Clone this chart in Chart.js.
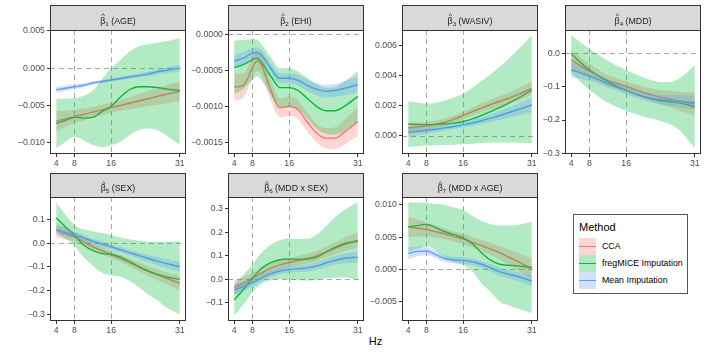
<!DOCTYPE html>
<html><head><meta charset="utf-8">
<script src="https://cdn.jsdelivr.net/npm/chart.js@4.4.0/dist/chart.umd.min.js"></script>
<style>
body{margin:0;width:706px;height:353px;background:#fff;position:relative;overflow:hidden;font-family:"Liberation Sans",Arial,sans-serif}
canvas{position:absolute}
#hz{position:absolute;left:300px;width:151px;top:335px;text-align:center;font-size:11px;line-height:13px;color:#000}
#legend{position:absolute;left:573px;top:214px;width:115px;height:80px;border:1px solid #555;box-sizing:border-box;background:#fff}
#legend .t{position:absolute;left:5px;top:6px;font-size:11px;line-height:13px;color:#000}
#legend .k{position:absolute;left:5px;width:17px;height:17px;background:#fff}
#legend .k .ln{position:absolute;left:0;right:0;top:8px;height:1.4px}
#legend .k .fl{position:absolute;left:0;right:0;top:0;bottom:0}
#legend .l{position:absolute;left:28px;font-size:8.8px;line-height:17px;color:#000;white-space:nowrap}
</style></head>
<body>
<div id="hz">Hz</div>
<div id="legend"></div>
<script>
// ---------- data ----------
const hz = [4,6,8,9,10,12,14,16,18,20,22,24,26,28,31];
const xTicks = [4,8,16,31];
const xTickLabels = ['4','8','16','31'];
const refHz = [8,16];
const refY = 0;
const methods = ['CCA','fregMICE Imputation','Mean Imputation'];

// AGE
const ageCCA    = [-0.0071,-0.0068,-0.0065,-0.0063,-0.0062,-0.0059,-0.0056,-0.0053,-0.0050,-0.0047,-0.0044,-0.0041,-0.0038,-0.0035,-0.0031];
const ageCCALo  = [-0.0085,-0.0079,-0.0074,-0.00715,-0.0070,-0.0066,-0.0063,-0.0060,-0.0057,-0.0055,-0.0053,-0.0051,-0.0049,-0.0047,-0.0044];
const ageCCAHi  = [-0.0057,-0.0057,-0.0056,-0.00545,-0.0054,-0.0052,-0.0049,-0.0046,-0.0043,-0.0039,-0.0035,-0.0031,-0.0027,-0.0023,-0.0018];
const ageFreg   = [-0.0074,-0.0070,-0.0066,-0.0066,-0.0067,-0.0066,-0.0058,-0.0051,-0.0039,-0.0029,-0.0025,-0.0025,-0.0026,-0.0028,-0.0030];
const ageFregLo = [-0.0107,-0.0099,-0.0092,-0.0094,-0.0097,-0.0103,-0.0106,-0.0103,-0.0099,-0.0090,-0.0083,-0.0081,-0.0083,-0.0090,-0.0103];
const ageFregHi = [-0.0041,-0.0041,-0.0040,-0.0039,-0.0037,-0.0030,-0.0015,0.0000,0.0011,0.0022,0.0029,0.0032,0.0034,0.0036,0.0040];
const ageMean   = [-0.0029,-0.0027,-0.0025,-0.0024,-0.0023,-0.0020,-0.0018,-0.0016,-0.0014,-0.0012,-0.0010,-0.0008,-0.0005,-0.0003,0.0000];
const ageMeanLo = [-0.0033,-0.00305,-0.0028,-0.00268,-0.00255,-0.00222,-0.0020,-0.0018,-0.0016,-0.00142,-0.00125,-0.0011,-0.00085,-0.0007,-0.00045];
const ageMeanHi = [-0.0025,-0.00235,-0.0022,-0.00212,-0.00205,-0.00178,-0.0016,-0.0014,-0.0012,-0.00098,-0.00075,-0.0005,-0.00015,0.0001,0.00045];
const ageTicks = [-0.010,-0.005,0,0.005];
const ageLabels = ['\u22120.010','\u22120.005','0.000','0.005'];

// EHI
const ehiCCA    = [-0.00073,-0.00071,-0.00046,-0.00037,-0.00043,-0.00078,-0.00102,-0.00100,-0.00105,-0.00122,-0.00137,-0.00144,-0.00144,-0.00136,-0.00121];
const ehiCCALo  = [-0.00092,-0.00088,-0.00061,-0.00051,-0.00057,-0.00092,-0.00115,-0.00113,-0.00118,-0.00135,-0.00150,-0.00158,-0.00159,-0.00153,-0.00141];
const ehiCCAHi  = [-0.00054,-0.00054,-0.00031,-0.00023,-0.00029,-0.00064,-0.00089,-0.00087,-0.00092,-0.00109,-0.00124,-0.00130,-0.00129,-0.00119,-0.00101];
const ehiFreg   = [-0.00046,-0.00042,-0.00035,-0.00033,-0.00039,-0.00058,-0.00074,-0.00074,-0.00078,-0.00089,-0.00100,-0.00106,-0.00106,-0.00100,-0.00086];
const ehiFregLo = [-0.00083,-0.00076,-0.00063,-0.00058,-0.00064,-0.00084,-0.00101,-0.00101,-0.00104,-0.00117,-0.00131,-0.00138,-0.00139,-0.00134,-0.00121];
const ehiFregHi = [-0.00009,-0.00008,-0.00007,-0.00008,-0.00014,-0.00032,-0.00047,-0.00047,-0.00052,-0.00061,-0.00069,-0.00074,-0.00073,-0.00066,-0.00051];
const ehiMean   = [-0.00037,-0.00033,-0.00026,-0.00025,-0.00029,-0.00047,-0.00061,-0.00061,-0.00064,-0.00071,-0.00076,-0.00079,-0.00078,-0.00075,-0.00070];
const ehiMeanLo = [-0.00046,-0.00041,-0.00033,-0.00032,-0.00036,-0.00054,-0.00068,-0.00068,-0.000715,-0.00079,-0.000845,-0.00088,-0.00087,-0.00085,-0.00081];
const ehiMeanHi = [-0.00028,-0.00025,-0.00019,-0.00018,-0.00022,-0.00040,-0.00054,-0.00054,-0.000565,-0.00063,-0.000675,-0.00070,-0.00069,-0.00065,-0.00059];
const ehiTicks = [-0.0015,-0.0010,-0.0005,0];
const ehiLabels = ['\u22120.0015','\u22120.0010','\u22120.0005','0.0000'];

// WASIV
const wasCCA    = [0.00053,0.00058,0.00065,0.00070,0.00076,0.00090,0.00110,0.00135,0.00160,0.00185,0.00208,0.00230,0.00250,0.00275,0.00315];
const wasCCALo  = [0.00018,0.00028,0.00038,0.00044,0.00051,0.00066,0.00086,0.00110,0.00133,0.00156,0.00177,0.00196,0.00213,0.00234,0.00269];
const wasCCAHi  = [0.00088,0.00088,0.00092,0.00096,0.00101,0.00114,0.00134,0.00160,0.00187,0.00214,0.00239,0.00264,0.00287,0.00316,0.00361];
const wasFreg   = [0.00077,0.00075,0.00074,0.00074,0.00075,0.00078,0.00084,0.00095,0.00112,0.00135,0.00160,0.00188,0.00217,0.00250,0.00305];
const wasFregLo = [-0.00075,-0.00070,-0.00066,-0.00065,-0.00064,-0.00062,-0.00060,-0.00057,-0.00053,-0.00049,-0.00046,-0.00045,-0.00045,-0.00047,-0.00050];
const wasFregHi = [0.00230,0.00220,0.00215,0.00215,0.00220,0.00235,0.00255,0.00280,0.00320,0.00365,0.00410,0.00460,0.00515,0.00575,0.00670];
const wasMean   = [0.00022,0.00028,0.00035,0.00039,0.00043,0.00052,0.00061,0.00072,0.00085,0.00100,0.00117,0.00135,0.00155,0.00175,0.00205];
const wasMeanLo = [-0.00008,0.00003,0.00015,0.00020,0.00025,0.00035,0.00044,0.00054,0.00065,0.00078,0.00091,0.00105,0.00120,0.00135,0.00157];
const wasMeanHi = [0.00052,0.00053,0.00055,0.00058,0.00061,0.00069,0.00078,0.00090,0.00105,0.00122,0.00143,0.00165,0.00190,0.00215,0.00253];
const wasTicks = [0,0.002,0.004,0.006];
const wasLabels = ['0.000','0.002','0.004','0.006'];

// MDD
const mddCCA    = [-0.020,-0.037,-0.053,-0.060,-0.067,-0.081,-0.090,-0.099,-0.109,-0.118,-0.126,-0.133,-0.139,-0.145,-0.152];
const mddCCALo  = [-0.050,-0.062,-0.074,-0.079,-0.085,-0.097,-0.105,-0.114,-0.125,-0.135,-0.145,-0.155,-0.164,-0.174,-0.187];
const mddCCAHi  = [0.010,-0.012,-0.032,-0.041,-0.049,-0.065,-0.075,-0.084,-0.093,-0.101,-0.107,-0.111,-0.114,-0.116,-0.117];
const mddFreg   = [0.000,-0.027,-0.050,-0.059,-0.068,-0.085,-0.099,-0.111,-0.122,-0.131,-0.138,-0.143,-0.146,-0.150,-0.160];
const mddFregLo = [-0.060,-0.085,-0.110,-0.120,-0.130,-0.148,-0.161,-0.172,-0.182,-0.190,-0.197,-0.205,-0.215,-0.235,-0.285];
const mddFregHi = [0.055,0.033,0.013,0.004,-0.005,-0.022,-0.037,-0.050,-0.062,-0.073,-0.082,-0.087,-0.085,-0.072,-0.035];
const mddMean   = [-0.050,-0.058,-0.068,-0.073,-0.079,-0.091,-0.102,-0.112,-0.122,-0.130,-0.136,-0.140,-0.142,-0.144,-0.148];
const mddMeanLo = [-0.072,-0.076,-0.083,-0.087,-0.092,-0.103,-0.113,-0.123,-0.133,-0.142,-0.149,-0.154,-0.158,-0.162,-0.169];
const mddMeanHi = [-0.028,-0.040,-0.053,-0.059,-0.066,-0.079,-0.091,-0.101,-0.111,-0.118,-0.123,-0.126,-0.126,-0.126,-0.127];
const mddTicks = [-0.3,-0.2,-0.1,0];
const mddLabels = ['\u22120.3','\u22120.2','\u22120.1','0.0'];

// SEX
const sexCCA    = [0.055,0.040,0.027,0.017,0.006,-0.015,-0.032,-0.048,-0.064,-0.081,-0.099,-0.117,-0.133,-0.147,-0.170];
const sexCCALo  = [0.025,0.015,0.007,-0.002,-0.012,-0.031,-0.047,-0.063,-0.079,-0.097,-0.117,-0.137,-0.155,-0.172,-0.200];
const sexCCAHi  = [0.085,0.065,0.047,0.036,0.024,0.001,-0.017,-0.033,-0.049,-0.065,-0.081,-0.097,-0.111,-0.122,-0.140];
const sexFreg   = [0.107,0.069,0.034,0.012,-0.008,-0.032,-0.044,-0.048,-0.058,-0.078,-0.099,-0.117,-0.131,-0.142,-0.153];
const sexFregLo = [0.045,0.018,-0.010,-0.035,-0.060,-0.095,-0.125,-0.135,-0.142,-0.160,-0.185,-0.215,-0.240,-0.270,-0.300];
const sexFregHi = [0.170,0.120,0.076,0.064,0.058,0.050,0.042,0.033,0.024,0.016,0.010,0.007,0.006,0.006,0.008];
const sexMean   = [0.055,0.045,0.034,0.028,0.022,0.008,-0.004,-0.016,-0.028,-0.040,-0.052,-0.064,-0.076,-0.086,-0.100];
const sexMeanLo = [0.035,0.028,0.020,0.015,0.010,-0.003,-0.015,-0.027,-0.039,-0.052,-0.065,-0.079,-0.093,-0.105,-0.122];
const sexMeanHi = [0.075,0.062,0.048,0.041,0.034,0.019,0.007,-0.005,-0.017,-0.028,-0.039,-0.049,-0.059,-0.067,-0.078];
const sexTicks = [-0.3,-0.2,-0.1,0,0.1];
const sexLabels = ['\u22120.3','\u22120.2','\u22120.1','0.0','0.1'];

// MDD x SEX
const msCCA    = [-0.034,-0.016,0.006,0.017,0.027,0.048,0.062,0.072,0.080,0.088,0.100,0.116,0.132,0.148,0.167];
const msCCALo  = [-0.064,-0.041,-0.015,-0.003,0.008,0.030,0.044,0.054,0.061,0.068,0.079,0.093,0.107,0.120,0.134];
const msCCAHi  = [-0.004,0.009,0.027,0.037,0.046,0.066,0.080,0.090,0.099,0.108,0.121,0.139,0.157,0.176,0.200];
const msFreg   = [-0.087,-0.044,0.006,0.028,0.048,0.072,0.084,0.087,0.085,0.087,0.094,0.116,0.136,0.152,0.162];
const msFregLo = [-0.155,-0.108,-0.052,-0.034,-0.018,-0.003,0.002,0.000,-0.003,-0.005,-0.002,0.005,0.007,0.009,-0.005];
const msFregHi = [-0.020,0.020,0.065,0.090,0.115,0.148,0.167,0.174,0.172,0.172,0.190,0.225,0.265,0.295,0.330];
const msMean   = [-0.044,-0.030,-0.014,-0.004,0.006,0.024,0.036,0.043,0.046,0.049,0.057,0.070,0.081,0.090,0.095];
const msMeanLo = [-0.066,-0.049,-0.030,-0.019,-0.009,0.010,0.022,0.029,0.032,0.034,0.041,0.053,0.062,0.069,0.071];
const msMeanHi = [-0.022,-0.011,0.002,0.011,0.021,0.038,0.050,0.057,0.060,0.064,0.073,0.087,0.100,0.111,0.119];
const msTicks = [-0.1,0,0.1,0.2,0.3];
const msLabels = ['\u22120.1','0.0','0.1','0.2','0.3'];

// MDD x AGE
const maCCA    = [0.0066,0.0064,0.0062,0.0060,0.00585,0.0055,0.0051,0.0047,0.0042,0.0037,0.00315,0.0026,0.0019,0.0012,0.0001];
const maCCALo  = [0.0050,0.0051,0.0051,0.0050,0.0049,0.00465,0.0043,0.0039,0.0034,0.00285,0.0022,0.00155,0.0007,-0.00015,-0.0015];
const maCCAHi  = [0.0082,0.0077,0.0073,0.0070,0.0068,0.00635,0.0059,0.0055,0.0050,0.00455,0.0041,0.00365,0.0031,0.00255,0.0017];
const maFreg   = [0.0066,0.0068,0.0070,0.0068,0.0065,0.00585,0.0054,0.0049,0.0040,0.0026,0.00145,0.0008,0.00065,0.00055,0.0003];
const maFregLo = [0.0028,0.0032,0.0036,0.0034,0.0029,0.0018,0.0011,0.0006,-0.0003,-0.0022,-0.0035,-0.0050,-0.0056,-0.0061,-0.0068];
const maFregHi = [0.0104,0.0104,0.0103,0.01025,0.0102,0.0100,0.0096,0.0092,0.0083,0.0075,0.0070,0.0068,0.0068,0.0069,0.0074];
const maMean   = [0.0025,0.0028,0.00285,0.00265,0.0023,0.0017,0.00145,0.0014,0.0012,0.0008,0.00025,-0.00035,-0.00075,-0.0011,-0.0018];
const maMeanLo = [0.0016,0.00205,0.00225,0.00207,0.00175,0.0012,0.00095,0.0009,0.0007,0.00028,-0.0003,-0.00095,-0.0014,-0.00182,-0.00265];
const maMeanHi = [0.0034,0.00355,0.00345,0.00323,0.00285,0.0022,0.00195,0.0019,0.0017,0.00132,0.0008,0.00025,-0.0001,-0.00038,-0.00095];
const maTicks = [-0.005,0,0.005,0.010];
const maLabels = ['\u22120.005','0.000','0.005','0.010'];

// ---------- styling / layout ----------
const colors = ['#F8766D','#00BA38','#619CFF'];
const fills  = ['rgba(248,118,109,0.3)','rgba(0,186,56,0.3)','rgba(97,156,255,0.3)'];
const FONT = '"Liberation Sans", Arial, sans-serif';
Chart.defaults.font.family = FONT;

const rows = [{top:5, strip:25, bottom:154},{top:173, strip:24, bottom:321}];
const panels = [
  {sym:'\u03B2', sub:'1', name:' (AGE)', left:50, row:0, y:[-0.0115,0.0051], ticks:ageTicks, labels:ageLabels,
   s:[[ageCCA,ageCCALo,ageCCAHi],[ageFreg,ageFregLo,ageFregHi],[ageMean,ageMeanLo,ageMeanHi]]},
  {sym:'\u03B2', sub:'2', name:' (EHI)', left:228, row:0, y:[-0.00166,0.00006], ticks:ehiTicks, labels:ehiLabels,
   s:[[ehiCCA,ehiCCALo,ehiCCAHi],[ehiFreg,ehiFregLo,ehiFregHi],[ehiMean,ehiMeanLo,ehiMeanHi]]},
  {sym:'\u03B2', sub:'3', name:' (WASIV)', left:402, row:0, y:[-0.00122,0.00705], ticks:wasTicks, labels:wasLabels,
   s:[[wasCCA,wasCCALo,wasCCAHi],[wasFreg,wasFregLo,wasFregHi],[wasMean,wasMeanLo,wasMeanHi]]},
  {sym:'\u03B2', sub:'4', name:' (MDD)', left:565, row:0, y:[-0.302,0.070], ticks:mddTicks, labels:mddLabels,
   s:[[mddCCA,mddCCALo,mddCCAHi],[mddFreg,mddFregLo,mddFregHi],[mddMean,mddMeanLo,mddMeanHi]]},
  {sym:'\u03B2', sub:'5', name:' (SEX)', left:50, row:1, y:[-0.328,0.194], ticks:sexTicks, labels:sexLabels,
   s:[[sexCCA,sexCCALo,sexCCAHi],[sexFreg,sexFregLo,sexFregHi],[sexMean,sexMeanLo,sexMeanHi]]},
  {sym:'\u03B2', sub:'6', name:' (MDD x SEX)', left:228, row:1, y:[-0.177,0.351], ticks:msTicks, labels:msLabels,
   s:[[msCCA,msCCALo,msCCAHi],[msFreg,msFregLo,msFregHi],[msMean,msMeanLo,msMeanHi]]},
  {sym:'\u03B2', sub:'7', name:' (MDD x AGE)', left:402, row:1, y:[-0.0080,0.01124], ticks:maTicks, labels:maLabels,
   s:[[maCCA,maCCALo,maCCAHi],[maFreg,maFregLo,maFregHi],[maMean,maMeanLo,maMeanHi]]}
];

const facetPlugin = {
  id:'facet',
  beforeDatasetsDraw(chart){
    const {ctx, chartArea:a, scales:{x, y}} = chart;
    ctx.save();
    ctx.strokeStyle = '#a6a6a6'; ctx.lineWidth = 1; ctx.setLineDash([5,4]);
    refHz.forEach(v => {
      const px = Math.round(x.getPixelForValue(v)) + 0.5;
      ctx.beginPath(); ctx.moveTo(px, a.top); ctx.lineTo(px, a.bottom); ctx.stroke();
    });
    const py = Math.round(y.getPixelForValue(refY)) + 0.5;
    ctx.beginPath(); ctx.moveTo(a.left, py); ctx.lineTo(a.right, py); ctx.stroke();
    ctx.restore();
  },
  afterDraw(chart, args, opts){
    const {ctx, chartArea:a} = chart;
    const w = a.right - a.left, h = a.bottom - a.top;
    ctx.save();
    ctx.strokeStyle = '#333333'; ctx.lineWidth = 1;
    ctx.strokeRect(a.left + 0.5, a.top + 0.5, w - 1, h - 1);
    ctx.fillStyle = '#D9D9D9';
    ctx.fillRect(a.left, 0, w, a.top);
    ctx.strokeRect(a.left + 0.5, 0.5, w - 1, a.top);
    // strip label: beta with hat, subscript index, name
    ctx.fillStyle = '#1A1A1A';
    ctx.textBaseline = 'alphabetic'; ctx.textAlign = 'left';
    const big = '8.8px ' + FONT, small = '6.2px ' + FONT;
    ctx.font = big;
    const wSym = ctx.measureText(opts.sym).width;
    const wName = ctx.measureText(opts.name).width;
    ctx.font = small;
    const wSub = ctx.measureText(opts.sub).width;
    const total = wSym + wSub + wName;
    const x0 = a.left + w / 2 - total / 2;
    const base = a.top / 2 + 6;
    ctx.font = big;
    ctx.fillText(opts.sym, x0, base);
    ctx.font = small;
    ctx.fillText(opts.sub, x0 + wSym, base + 2);
    ctx.font = big;
    ctx.fillText(opts.name, x0 + wSym + wSub, base);
    ctx.font = '7px ' + FONT; ctx.textAlign = 'center';
    ctx.fillText('^', x0 + wSym / 2 + 0.3, base - 5.5);
    ctx.restore();
  }
};

function pts(arr){ return hz.map((x, i) => ({x, y: arr[i]})); }

panels.forEach(p => {
  const r = rows[p.row];
  const cv = document.createElement('canvas');
  const W = 188, H = (r.bottom - r.top) + 16;
  cv.width = W; cv.height = H;
  cv.style.left = (p.left - 50) + 'px'; cv.style.top = r.top + 'px';
  cv.style.width = W + 'px'; cv.style.height = H + 'px';
  document.body.appendChild(cv);

  const ds = [];
  [2,1,0].forEach(m => {
    const [, lo, hi] = p.s[m];
    ds.push({label: methods[m] + ' lo', data: pts(lo), borderWidth: 0, borderColor: 'rgba(0,0,0,0)',
             pointRadius: 0, fill: false, cubicInterpolationMode: 'monotone'});
    ds.push({label: methods[m] + ' hi', data: pts(hi), borderWidth: 0, borderColor: 'rgba(0,0,0,0)',
             backgroundColor: fills[m], pointRadius: 0, fill: '-1', cubicInterpolationMode: 'monotone'});
  });
  [2,1,0].forEach(m => {
    ds.push({label: methods[m], data: pts(p.s[m][0]), borderColor: colors[m], borderWidth: 1.4,
             pointRadius: 0, fill: false, cubicInterpolationMode: 'monotone'});
  });

  new Chart(cv, {
    type: 'line',
    data: {datasets: ds},
    options: {
      responsive: false, animation: false, devicePixelRatio: 1, events: [],
      layout: {padding: {top: r.strip, right: 2, left: 0, bottom: 0}},
      plugins: {legend: {display: false}, tooltip: {enabled: false},
                facet: {sym: p.sym, sub: p.sub, name: p.name}},
      scales: {
        x: {
          type: 'linear', min: 2.65, max: 32.35,
          afterBuildTicks: s => { s.ticks = xTicks.map(v => ({value: v})); },
          afterFit: s => { s.height = 16; },
          ticks: {autoSkip: false, maxRotation: 0, padding: 1.5, color: '#4D4D4D',
                  font: {size: 8.8, family: FONT}, callback: (v, i) => xTickLabels[i]},
          grid: {drawOnChartArea: false, drawTicks: true, tickLength: 3, color: '#333333'},
          border: {display: false}
        },
        y: {
          type: 'linear', min: p.y[0], max: p.y[1],
          afterBuildTicks: s => { s.ticks = p.ticks.map(v => ({value: v})); },
          afterFit: s => { s.width = 50; },
          ticks: {autoSkip: false, padding: 2, color: '#4D4D4D',
                  font: {size: 8.8, family: FONT}, callback: (v, i) => p.labels[i]},
          grid: {drawOnChartArea: false, drawTicks: true, tickLength: 3, color: '#333333'},
          border: {display: false}
        }
      }
    },
    plugins: [facetPlugin]
  });
});

// legend
const lg = document.getElementById('legend');
let html = '<div class="t">Method</div>';
methods.forEach((m, i) => {
  const top = 23 + i * 17;
  html += `<div class="k" style="top:${top}px"><div class="ln" style="background:${colors[i]}"></div><div class="fl" style="background:${fills[i]}"></div></div>`;
  html += `<div class="l" style="top:${top}px">${m}</div>`;
});
lg.innerHTML = html;
</script>
</body></html>
